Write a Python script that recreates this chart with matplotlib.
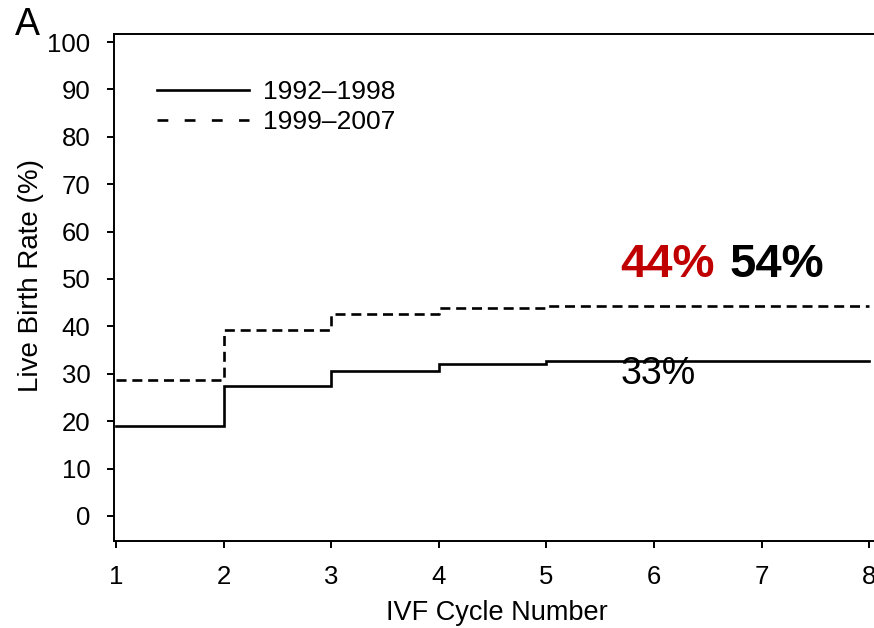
import matplotlib
matplotlib.use("Agg")
import matplotlib.pyplot as plt
from matplotlib.lines import Line2D

plt.rcParams['font.family'] = ['Liberation Sans', 'DejaVu Sans']

# Cumulative live birth rate by IVF cycle number
cycles = [1, 2, 3, 4, 5, 6, 7, 8]
rate_1992_1998 = [19.0, 27.4, 30.6, 32.0, 32.6, 32.6, 32.6, 32.6]
rate_1999_2007 = [28.7, 39.2, 42.6, 43.9, 44.2, 44.2, 44.2, 44.2]
series_labels = ["1992\u20131998", "1999\u20132007"]
yticks = [0, 10, 20, 30, 40, 50, 60, 70, 80, 90, 100]

W, H = 874, 628
fig = plt.figure(figsize=(W / 100, H / 100), dpi=100)

# axes box in pixels: left spine 114, bottom spine 541, top spine 34; right spine falls off the page
x0, x1 = 0.981, 8.1
px_left, px_right = 114, 116 + (x1 - 1) * 107.6
px_top, px_bottom = 34, 541
ax = fig.add_axes([px_left / W, (H - px_bottom) / H,
                   (px_right - px_left) / W, (px_bottom - px_top) / H])
ax.set_xlim(x0, x1)
ax.set_ylim(-5.3, 101.7)

lw = 1.9
dash = (0, (3.8, 2.2))
ax.step(cycles, rate_1992_1998, where='post', color='black', lw=lw,
        solid_joinstyle='miter')
ax.step(cycles, rate_1999_2007, where='post', color='black', lw=lw,
        linestyle=dash)

for s in ['left', 'bottom', 'top', 'right']:
    ax.spines[s].set_linewidth(1.4)

ax.set_xticks(cycles)
ax.set_yticks(yticks)
ax.tick_params(axis='both', direction='out', width=1.4, labelsize=18.5)
ax.tick_params(axis='y', length=5, pad=12)
ax.tick_params(axis='x', length=5, pad=12.5)

ax.set_xlabel("IVF Cycle Number", fontsize=19.5, labelpad=8)
ax.set_ylabel("Live Birth Rate (%)", fontsize=20)
ax.yaxis.set_label_coords((44 - px_left) / (px_right - px_left),
                          (px_bottom - 275) / (px_bottom - px_top))

handles = [Line2D([], [], color='black', lw=lw),
           Line2D([], [], color='black', lw=lw, linestyle=(0, (4.1, 6.2)))]
ax.legend(handles, series_labels, loc='upper left', frameon=False,
          bbox_to_anchor=(157 / W, 1 - 80 / H), bbox_transform=fig.transFigure,
          fontsize=19, handlelength=3.5, handletextpad=0.5,
          labelspacing=0.22, borderpad=0, borderaxespad=0)

# summary annotations
ax.text(5.684, 50.4, "44%", color='#c00000', fontsize=34, fontweight='bold',
        va='baseline', ha='left')
ax.text(6.706, 50.4, "54%", color='black', fontsize=34, fontweight='bold',
        va='baseline', ha='left')
ax.text(5.69, 27.8, "33%", color='black', fontsize=27,
        va='baseline', ha='left')

fig.text(15 / W, 1 - 35 / H, "A", fontsize=27, va='baseline', ha='left')

fig.savefig("out.png", dpi=100)
